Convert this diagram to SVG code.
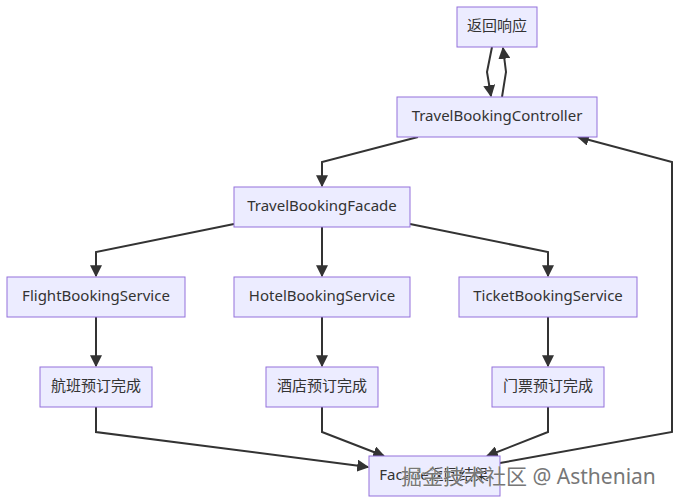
<svg xmlns="http://www.w3.org/2000/svg" width="680" height="504" viewBox="0 0 680 504">
<style>
.n rect{fill:#ECECFF;stroke:#9370DB;stroke-width:1}
.n text{font-family:"Noto Sans","Noto Sans CJK SC",sans-serif;font-size:15px;fill:#333;text-anchor:middle;dominant-baseline:central}
.e path{fill:none;stroke:#333;stroke-width:2;marker-end:url(#a)}
.wm{font-family:"Noto Sans","Noto Sans CJK SC",sans-serif;font-size:21px;fill:#777;stroke:#fff;stroke-width:0.6;paint-order:stroke}
</style>
<defs><marker id="a" viewBox="0 0 10 10" refX="9" refY="5" markerWidth="6" markerHeight="6" orient="auto"><path d="M0,0L10,5L0,10z" fill="#333"/></marker></defs>
<rect width="680" height="504" fill="#fff"/>
<g class="e">
<path d="M492,47 L487,72 L491,96"/>
<path d="M502,97 L506,72 L503,48"/>
<path d="M418,137 L322,162 L322,186"/>
<path d="M234,224 L96,252 L96,276"/>
<path d="M322,227 L322,276"/>
<path d="M410,224 L548,252 L548,276"/>
<path d="M96,317 L96,366"/>
<path d="M322,317 L322,366"/>
<path d="M548,317 L548,366"/>
<path d="M96,407 L96,432 L368,467"/>
<path d="M322,407 L322,432 L384,456"/>
<path d="M548,407 L548,432 L487,456"/>
<path d="M500,463 L672,432 L672,162 L578,137"/>
</g>
<g id="n1" class="n"><rect x="457" y="7" width="80" height="40"/><text x="497" y="25">返回响应</text></g>
<g id="n2" class="n"><rect x="397" y="97" width="200" height="40"/><text x="497" y="115">TravelBookingController</text></g>
<g id="n3" class="n"><rect x="234" y="187" width="176" height="40"/><text x="322" y="205">TravelBookingFacade</text></g>
<g id="n4" class="n"><rect x="7" y="277" width="178" height="40"/><text x="96" y="295">FlightBookingService</text></g>
<g id="n5" class="n"><rect x="234" y="277" width="176" height="40"/><text x="322" y="295">HotelBookingService</text></g>
<g id="n6" class="n"><rect x="459" y="277" width="178" height="40"/><text x="548" y="295">TicketBookingService</text></g>
<g id="n7" class="n"><rect x="40" y="367" width="112" height="40"/><text x="96" y="385">航班预订完成</text></g>
<g id="n8" class="n"><rect x="266" y="367" width="112" height="40"/><text x="322" y="385">酒店预订完成</text></g>
<g id="n9" class="n"><rect x="492" y="367" width="112" height="40"/><text x="548" y="385">门票预订完成</text></g>
<g id="n10" class="n"><rect x="369" y="456" width="131" height="40"/><text x="434" y="474">Facade返回结果</text></g>
<text class="wm" x="401" y="484">掘金技术社区 @ Asthenian</text>
</svg>
